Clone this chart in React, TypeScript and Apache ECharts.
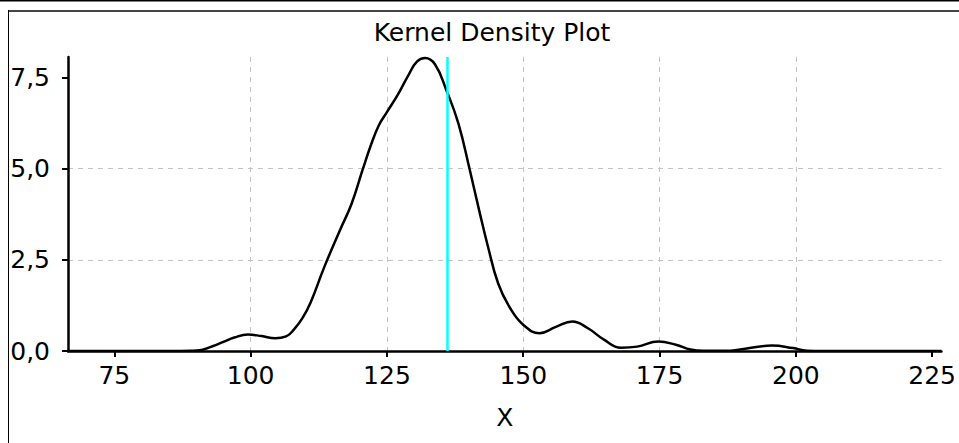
import React, { useEffect, useRef } from "react";
import * as echarts from "echarts";

const xValues = [66.5, 85, 89, 91, 93, 95, 97, 99.5, 102, 104.5, 106.5, 108, 109.5, 111, 113.5, 116.5, 118.5, 120.5, 122, 123.5, 125, 127, 129, 130.5, 132, 133.8, 135.9, 138.1, 140.2, 142, 143.5, 145.4, 147.5, 150, 153, 156, 159, 161.8, 164.8, 167.9, 170.9, 174.8, 178, 180.7, 183, 188, 191, 195.6, 199.5, 202, 205, 226.7];
const density = [0, 0, 0.005, 0.03, 0.13, 0.25, 0.37, 0.45, 0.41, 0.35, 0.4, 0.6, 0.9, 1.33, 2.3, 3.35, 4.03, 4.95, 5.62, 6.18, 6.55, 7.03, 7.58, 7.93, 8.03, 7.86, 7.15, 6.24, 4.96, 3.8, 2.88, 1.85, 1.2, 0.72, 0.49, 0.66, 0.81, 0.63, 0.31, 0.09, 0.12, 0.26, 0.17, 0.04, 0.005, 0.01, 0.07, 0.15, 0.08, 0.01, 0, 0];
const xTicks = [75, 100, 125, 150, 175, 200, 225];
const yTicks = [0, 2.5, 5, 7.5];
const meanValue = 136.1;
const xRange = [66.5, 226.7];
const yRange = [0, 8.06];

const FONT = "DejaVu Sans";

export default function App() {
  const ref = useRef<HTMLDivElement>(null);
  useEffect(() => {
    if (!ref.current) return;
    const chart = echarts.init(ref.current, null, { renderer: "svg" });
    const gridLine = { show: true, showMinLine: false, showMaxLine: false, lineStyle: { color: "#c4c4c4", type: [5, 5], width: 1 } };
    chart.setOption({
      animation: false,
      backgroundColor: "#ffffff",
      title: {
        text: "Kernel Density Plot",
        left: 487,
        top: 15,
        textAlign: "center",
        textStyle: { fontFamily: FONT, fontSize: 25, fontWeight: "normal", color: "#000" },
      },
      grid: { left: 68, right: 14, top: 57, bottom: 92 },
      xAxis: {
        type: "value",
        min: xRange[0],
        max: xRange[1],
        name: "X",
        nameLocation: "middle",
        nameGap: 54,
        nameTextStyle: { fontFamily: FONT, fontSize: 25, color: "#000" },
        axisLine: { show: true, onZero: false, lineStyle: { color: "#000", width: 2.5 } },
        axisTick: { show: true, length: 6, customValues: xTicks, lineStyle: { color: "#000", width: 2 } },
        axisLabel: { customValues: xTicks, margin: 12, fontFamily: FONT, fontSize: 25, color: "#000" },
        splitLine: gridLine,
      },
      yAxis: {
        type: "value",
        min: yRange[0],
        max: yRange[1],
        axisLine: { show: true, lineStyle: { color: "#000", width: 2.5 } },
        axisTick: { show: true, length: 6, customValues: yTicks, lineStyle: { color: "#000", width: 2 } },
        axisLabel: {
          customValues: yTicks,
          margin: 18,
          fontFamily: FONT,
          fontSize: 25,
          color: "#000",
          formatter: (v: number) => v.toFixed(1).replace(".", ","),
        },
        splitLine: gridLine,
      },
      series: [
        {
          type: "line",
          data: xValues.map((x, i) => [x, density[i]]),
          smooth: 0.45,
          showSymbol: false,
          lineStyle: { color: "#000", width: 2.5 },
          z: 3,
          markLine: {
            silent: true,
            symbol: "none",
            label: { show: false },
            lineStyle: { color: "#00ffff", width: 2.5, type: "solid" },
            data: [{ xAxis: meanValue }],
          },
        },
      ],
      graphic: [
        { type: "line", shape: { x1: 0, y1: 0.75, x2: 959, y2: 0.75 }, style: { stroke: "#000", lineWidth: 1.5 }, silent: true },
        { type: "line", shape: { x1: 8, y1: 11, x2: 959, y2: 11 }, style: { stroke: "#444", lineWidth: 2 }, silent: true },
        { type: "line", shape: { x1: 8.5, y1: 10, x2: 8.5, y2: 443 }, style: { stroke: "#000", lineWidth: 1 }, silent: true },
      ],
    });
    return () => chart.dispose();
  }, []);
  return <div ref={ref} style={{ position: "fixed", left: 0, top: 0, width: 959, height: 443 }} />;
}
